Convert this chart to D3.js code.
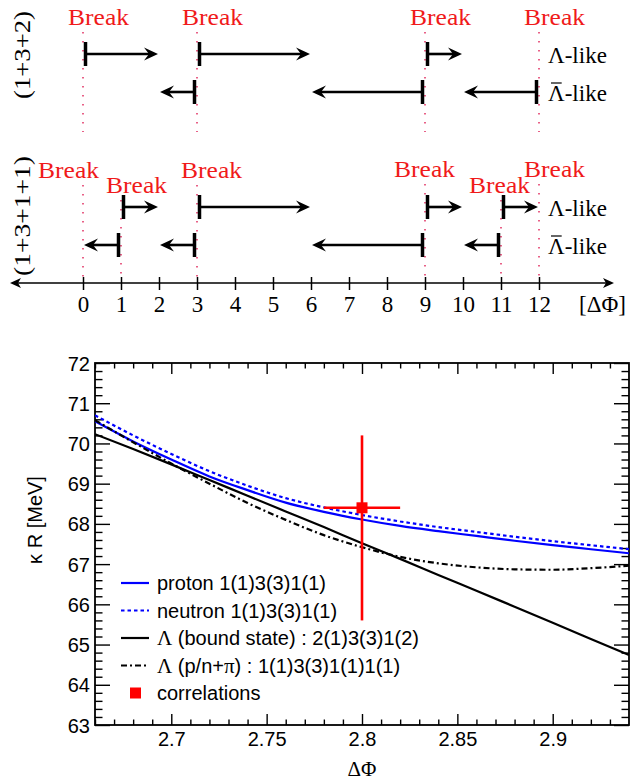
<!DOCTYPE html>
<html><head><meta charset="utf-8">
<script src="https://cdn.jsdelivr.net/npm/d3@7"></script>
<style>body{margin:0;background:#fff} svg{display:block}</style>
</head><body>
<svg id="c" width="641" height="783"></svg>
<script>
// ================= top diagram data =================
const phiTicks = [0,1,2,3,4,5,6,7,8,9,10,11,12];
const breaks132 = [0,3,9,12];
const breaks1311 = [0,1,3,9,11,12];
const lambda132 = [[0,2],[3,6],[9,10]];
const antiLambda132 = [[3,2],[9,6],[12,10]];
const lambda1311 = [[1,2],[3,6],[9,10],[11,12]];
const antiLambda1311 = [[1,0],[3,2],[9,6],[11,10]];
const rowLabels = ["(1+3+2)", "(1+3+1+1)"];
const breakText = "Break";
const lambdaText = "Λ";
const likeText = "-like";
const topAxisLabel = "[ΔΦ]";

// ================= bottom chart data =================
const dPhi        = [2.66, 2.68, 2.70, 2.72, 2.74, 2.76, 2.78, 2.80, 2.82, 2.84, 2.86, 2.88, 2.90, 2.92, 2.94];
const proton      = [70.55,70.05,69.60,69.18,68.84,68.53,68.30,68.11,67.95,67.82,67.70,67.58,67.47,67.37,67.27];
const neutron     = [70.70,70.20,69.74,69.31,68.95,68.64,68.41,68.22,68.06,67.92,67.80,67.68,67.57,67.47,67.37];
const lambdaBound = [70.23,69.86,69.48,69.09,68.70,68.31,67.92,67.52,67.13,66.73,66.34,65.94,65.54,65.14,64.74];
const lambdaPN    = [70.58,70.03,69.50,69.00,68.52,68.10,67.72,67.42,67.18,67.02,66.92,66.87,66.86,66.90,66.96];
const corrPoint = [2.80, 68.4];
const corrXErr  = [2.78, 2.82];
const corrYErr  = [65.6, 70.2];
const xMajor = [2.70, 2.75, 2.80, 2.85, 2.90];
const xMinor = [2.66,2.67,2.68,2.69,2.71,2.72,2.73,2.74,2.76,2.77,2.78,2.79,2.81,2.82,2.83,2.84,2.86,2.87,2.88,2.89,2.91,2.92,2.93];
const yMajor = [63,64,65,66,67,68,69,70,71,72];
const xTitle = "ΔΦ";
const yTitle = "κ R [MeV]";
const legendLabels = [
  "proton 1(1)3(3)1(1)",
  "neutron 1(1)3(3)1(1)",
  "Λ (bound state) : 2(1)3(3)1(2)",
  "Λ (p/n+π) : 1(1)3(3)1(1)1(1)",
  "correlations"
];

// ================= drawing =================
const svg = d3.select("#c");
const SERIF = "Liberation Serif, Times New Roman, serif";
const SANS = "Liberation Sans, Arial, Helvetica, sans-serif";
const RED = "#f01a1a";
const DOTRED = "#e33a6a";

// ---------- top diagram ----------
const xT = d3.scaleLinear().domain([0,12]).range([83,539]);
const topG = svg.append("g");

// axis line with arrowheads
const axY = 283;
topG.append("line").attr("x1",12).attr("x2",611).attr("y1",axY).attr("y2",axY)
  .attr("stroke","#000").attr("stroke-width",1.5);
function headPath(tip, yy, s, Ln, W, N){
  return `M${tip},${yy} L${tip - s*Ln},${yy - W} L${tip - s*N},${yy} L${tip - s*Ln},${yy + W} Z`;
}
topG.append("path").attr("d", headPath(10, axY, -1, 11, 5, 8)).attr("fill","#000");
topG.append("path").attr("d", headPath(614, axY, 1, 11, 5, 8)).attr("fill","#000");

const axT = topG.append("g").attr("transform",`translate(0,277)`)
  .call(d3.axisBottom(xT).tickValues(phiTicks).tickSize(13).tickFormat(d3.format("d")));
axT.select(".domain").remove();
axT.selectAll(".tick line").attr("stroke","#000").attr("stroke-width",1.5);
axT.selectAll(".tick text").attr("y",35).attr("dy",0)
  .attr("font-family",SERIF).attr("font-size",23).attr("fill","#000");
topG.append("text").attr("x",579).attr("y",312).attr("font-family",SERIF)
  .attr("font-size",23).text(topAxisLabel);

// break lines and labels
const topLabelLayout = {0:[-15,25],3:[-15,25],9:[-15,25],12:[-15,25]};
const botLabelLayout = {0:[-45,178],1:[-15,193],3:[-16,178],9:[-31,177],11:[-32,193],12:[-15,177]};
function drawBreaks(breaks, layout, yEnd){
  breaks.forEach(b => {
    const [dx, by] = layout[b];
    topG.append("line").attr("x1",xT(b)).attr("x2",xT(b)).attr("y1",by+7).attr("y2",yEnd)
      .attr("stroke",DOTRED).attr("stroke-width",1.6).attr("stroke-dasharray","1.6,7.4");
    topG.append("text").attr("x",xT(b)+dx).attr("y",by).attr("font-family",SERIF)
      .attr("font-size",23).attr("fill",RED)
      .attr("textLength",61).attr("lengthAdjust","spacingAndGlyphs").text(breakText);
  });
}
drawBreaks(breaks132, topLabelLayout, 132);
drawBreaks(breaks1311, botLabelLayout, 278);

// arrows
function drawArrows(list, yy){
  list.forEach(([a,b]) => {
    const s = Math.sign(b - a);
    const xb = xT(a) + 2.5*s;
    const tip = xT(b) - s*1;
    topG.append("line").attr("x1",xb).attr("x2",tip - s*8).attr("y1",yy).attr("y2",yy)
      .attr("stroke","#000").attr("stroke-width",2.6);
    topG.append("line").attr("x1",xb).attr("x2",xb).attr("y1",yy-12).attr("y2",yy+12)
      .attr("stroke","#000").attr("stroke-width",3.5);
    topG.append("path").attr("d", headPath(tip, yy, s, 14, 6.5, 9)).attr("fill","#000");
  });
}
drawArrows(lambda132, 54);
drawArrows(antiLambda132, 92);
drawArrows(lambda1311, 207);
drawArrows(antiLambda1311, 245);

// row species labels
function speciesLabel(x0, baseline, bar){
  const t = topG.append("text").attr("x",x0).attr("y",baseline).attr("font-family",SERIF)
    .attr("font-size",23).attr("fill","#000");
  const l = t.append("tspan").text(lambdaText);
  t.append("tspan").text(likeText);
  if (bar){
    const w = l.node().getComputedTextLength();
    topG.append("line").attr("x1",x0+3).attr("x2",x0+w-3).attr("y1",baseline-18).attr("y2",baseline-18)
      .attr("stroke","#000").attr("stroke-width",1.2);
  }
}
speciesLabel(548, 63, false);
speciesLabel(548, 101, true);
speciesLabel(548, 216, false);
speciesLabel(548, 254, true);

// vertical row labels
[[22,55,88],[22,216,120]].forEach(([cx,cy,len],i) => {
  topG.append("text").attr("transform",`translate(${cx+8},${cy}) rotate(-90)`)
    .attr("text-anchor","middle").attr("font-family",SERIF).attr("font-size",23)
    .attr("textLength",len).attr("lengthAdjust","spacingAndGlyphs").text(rowLabels[i]);
});

// ---------- bottom chart ----------
const L = 95, R = 629, T = 363, B = 725;
const x = d3.scaleLinear().domain([2.66,2.94]).range([L,R]);
const y = d3.scaleLinear().domain([63,72]).range([B,T]);
const bot = svg.append("g");

bot.append("clipPath").attr("id","clip").append("rect")
  .attr("x",L).attr("y",T).attr("width",R-L).attr("height",B-T);

function styleAxis(g){
  g.select(".domain").remove();
  g.selectAll(".tick line").attr("stroke","#000").attr("stroke-width",1.4);
}
// y axes
const yMinor = d3.range(63, 72.0001, 0.2).map(v => +v.toFixed(1)).filter(v => !yMajor.includes(v));
bot.append("g").attr("transform",`translate(${L},0)`)
  .call(d3.axisLeft(y).tickValues(yMajor).tickSizeInner(-15).tickSizeOuter(0).tickPadding(5).tickFormat(d3.format("d")))
  .call(styleAxis)
  .call(g => g.selectAll(".tick text").attr("font-family",SANS).attr("font-size",20).attr("fill","#000").attr("dy","0.35em"));
bot.append("g").attr("transform",`translate(${L},0)`)
  .call(d3.axisLeft(y).tickValues(yMinor).tickSizeInner(-7.5).tickSizeOuter(0).tickFormat(""))
  .call(styleAxis);
bot.append("g").attr("transform",`translate(${R},0)`)
  .call(d3.axisRight(y).tickValues(yMajor).tickSizeInner(-15).tickSizeOuter(0).tickFormat(""))
  .call(styleAxis);
bot.append("g").attr("transform",`translate(${R},0)`)
  .call(d3.axisRight(y).tickValues(yMinor).tickSizeInner(-7.5).tickSizeOuter(0).tickFormat(""))
  .call(styleAxis);
// x axes
bot.append("g").attr("transform",`translate(0,${B})`)
  .call(d3.axisBottom(x).tickValues(xMajor).tickSizeInner(-11).tickSizeOuter(0).tickFormat(d => String(+d.toFixed(2))))
  .call(styleAxis)
  .call(g => g.selectAll(".tick text").attr("y",21).attr("dy","0").attr("font-family",SANS).attr("font-size",20).attr("fill","#000"));
bot.append("g").attr("transform",`translate(0,${B})`)
  .call(d3.axisBottom(x).tickValues(xMinor).tickSizeInner(-5.5).tickSizeOuter(0).tickFormat(""))
  .call(styleAxis);
bot.append("g").attr("transform",`translate(0,${T})`)
  .call(d3.axisTop(x).tickValues(xMajor).tickSizeInner(-11).tickSizeOuter(0).tickFormat(""))
  .call(styleAxis);
bot.append("g").attr("transform",`translate(0,${T})`)
  .call(d3.axisTop(x).tickValues(xMinor).tickSizeInner(-5.5).tickSizeOuter(0).tickFormat(""))
  .call(styleAxis);

// frame
bot.append("rect").attr("x",L).attr("y",T).attr("width",R-L).attr("height",B-T)
  .attr("fill","none").attr("stroke","#000").attr("stroke-width",1.8);

// curves
const series = [
  {vals: proton, color:"#0000ff", dash:null},
  {vals: neutron, color:"#0000ff", dash:"3.5,3"},
  {vals: lambdaBound, color:"#000", dash:null},
  {vals: lambdaPN, color:"#000", dash:"6,3,2,3"}
];
const line = d3.line().x(d => x(d[0])).y(d => y(d[1])).curve(d3.curveMonotoneX);
const curves = bot.append("g").attr("clip-path","url(#clip)");
series.forEach(s => {
  curves.append("path").datum(dPhi.map((p,i) => [p, s.vals[i]]))
    .attr("d", line).attr("fill","none").attr("stroke", s.color).attr("stroke-width",2.2)
    .attr("stroke-dasharray", s.dash);
});

// correlation point
bot.append("line").attr("x1",x(corrPoint[0])).attr("x2",x(corrPoint[0]))
  .attr("y1",y(corrYErr[0])).attr("y2",y(corrYErr[1])).attr("stroke","#ff0000").attr("stroke-width",2.6);
bot.append("line").attr("x1",x(corrXErr[0])).attr("x2",x(corrXErr[1]))
  .attr("y1",y(corrPoint[1])).attr("y2",y(corrPoint[1])).attr("stroke","#ff0000").attr("stroke-width",2.6);
bot.append("rect").attr("x",x(corrPoint[0])-5.5).attr("y",y(corrPoint[1])-5.5)
  .attr("width",11).attr("height",11).attr("fill","#ff0000");

// legend
const legY0 = 583, legDY = 27.5;
legendLabels.forEach((lab,i) => {
  const yy = legY0 + i*legDY;
  if (i < 4){
    const s = series[i];
    bot.append("line").attr("x1",121).attr("x2",149).attr("y1",yy).attr("y2",yy)
      .attr("stroke",s.color).attr("stroke-width",2.2).attr("stroke-dasharray",s.dash);
  } else {
    bot.append("rect").attr("x",130).attr("y",yy-5.5).attr("width",11).attr("height",11).attr("fill","#ff0000");
  }
  const t = bot.append("text").attr("x",157).attr("y",yy+7).attr("font-family",SANS)
    .attr("font-size",20).attr("fill","#000");
  lab.split(/([Λπ])/).filter(p => p.length).forEach(p => {
    const ts = t.append("tspan").text(p);
    if (p === "Λ" || p === "π") ts.attr("font-family",SERIF).attr("font-size",21);
  });
});

// axis titles
bot.append("text").attr("x",(L+R)/2).attr("y",776).attr("text-anchor","middle")
  .attr("font-family",SERIF).attr("font-size",21).text(xTitle);
bot.append("text").attr("transform",`translate(42,520) rotate(-90)`).attr("text-anchor","middle")
  .attr("font-family",SANS).attr("font-size",20).text(yTitle);
</script>
</body></html>
